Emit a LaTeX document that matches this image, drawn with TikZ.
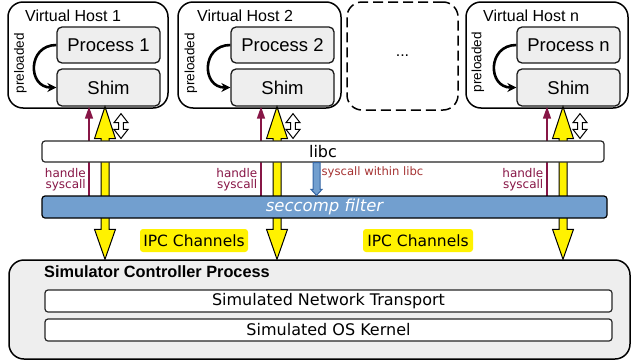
\documentclass[tikz,border=0pt]{standalone}
\usepackage{fontspec}
\setmainfont{Liberation Sans}
\newfontfamily\dv{DejaVu Sans}
\usetikzlibrary{arrows.meta,calc}
\definecolor{maroonc}{RGB}{135,22,70}
\definecolor{sysred}{RGB}{165,50,50}
\definecolor{secblue}{HTML}{729FCF}
\definecolor{secdark}{HTML}{3465A4}
\definecolor{boxgray}{HTML}{EEEEEE}
\newcommand\fs[1]{\fontsize{#1}{#1}\selectfont}
\tikzset{
  hostbox/.style={draw=black,line width=1.5pt,rounded corners=15pt,fill=white,minimum width=#1,minimum height=106pt,inner sep=0pt},
  procbox/.style={draw=black!90,line width=1.3pt,rounded corners=5pt,fill=boxgray,minimum width=103pt,minimum height=36pt,inner sep=0pt,font=\fs{18.5}},
  layerbox/.style={draw=black!85,line width=1.2pt,rounded corners=3pt,minimum height=#1,inner sep=0pt},
  hosttitle/.style={anchor=west,font=\fs{16},inner sep=0pt},
  preload/.style={rotate=90,font=\fs{13.5},inner sep=0pt},
  preloadarr/.style={line width=2.6pt,-{Stealth[length=9pt,width=9pt]}},
  syscallarr/.style={maroonc,line width=1.5pt,-{Triangle[length=12pt,width=8pt]}},
  handlelbl/.style={anchor=east,align=right,text=maroonc,font=\dv\fs{12},inner sep=0pt},
  yarrow/.style={draw=black,fill=yellow,line width=1pt,line join=miter},
  warrow/.style={draw=black,fill=white,line width=1pt},
  barrow/.style={draw=secdark,fill=secblue,line width=1pt},
  ipclbl/.style={fill=yellow,rounded corners=3pt,minimum width=#1,minimum height=23pt,inner sep=0pt,font=\dv\fs{15.5}},
}
\newcommand\yellowarrow[3]{%
  \draw[yarrow] let \p1=(#1 |- #2), \p2=(#1 |- #3) in
    (\x1,\y1) -- (\x1+10.5pt,\y1-32pt) -- (\x1+4pt,\y1-32pt) -- (\x1+4pt,\y2+30pt)
    -- (\x1+10.5pt,\y2+30pt) -- (\x2,\y2) -- (\x1-10.5pt,\y2+30pt) -- (\x1-4pt,\y2+30pt)
    -- (\x1-4pt,\y1-32pt) -- (\x1-10.5pt,\y1-32pt) -- cycle;}
\newcommand\whitearrow[3]{%
  \draw[warrow] let \p1=(#1 |- #2), \p2=(#1 |- #3) in
    (\x1,\y1-7pt) -- (\x1+7pt,\y1-16pt) -- (\x1+2.3pt,\y1-16pt) -- (\x1+2.3pt,\y2+11pt)
    -- (\x1+7pt,\y2+11pt) -- (\x2,\y2+2pt) -- (\x1-7pt,\y2+11pt) -- (\x1-2.3pt,\y2+11pt)
    -- (\x1-2.3pt,\y1-16pt) -- (\x1-7pt,\y1-16pt) -- cycle;}
\begin{document}
\begin{tikzpicture}[x=1pt,y=-1pt]
\useasboundingbox (0,0) rectangle (631,362);
% hosts
\node[hostbox=160pt] (host1) at (88,55) {};
\node[hostbox=163pt] (host2) at (259.5,55) {};
\node[hostbox=111pt,dash pattern=on 10pt off 5pt,minimum height=108pt] (dots) at (402.5,56) {\fs{16}...};
\node[hostbox=162pt] (hostn) at (547,55) {};
\node[hosttitle] (t1) at (25,16) {Virtual Host 1};
\node[hosttitle] (t2) at (197,16) {Virtual Host 2};
\node[hosttitle] (tn) at (483,16) {Virtual Host n};
\node[procbox] (proc1) at (108.5,45) {Process 1};
\node[procbox,minimum height=37pt] (shim1) at (108.5,87.5) {Shim};
\node[procbox] (proc2) at (282.5,45) {Process 2};
\node[procbox,minimum height=37pt] (shim2) at (282.5,87.5) {Shim};
\node[procbox] (procn) at (568.5,45) {Process n};
\node[procbox,minimum height=37pt] (shimn) at (568.5,87.5) {Shim};
\node[preload] (pl1) at (20.5,63) {preloaded};
\node[preload] (pl2) at (191,63) {preloaded};
\node[preload] (pln) at (478,62) {preloaded};
\draw[preloadarr] (proc1.west) .. controls ($(proc1.west)+(-29,0)$) and ($(shim1.west)+(-29,0)$) .. (shim1.west);
\draw[preloadarr] (proc2.west) .. controls ($(proc2.west)+(-29,0)$) and ($(shim2.west)+(-29,0)$) .. (shim2.west);
\draw[preloadarr] (procn.west) .. controls ($(procn.west)+(-29,0)$) and ($(shimn.west)+(-29,0)$) .. (shimn.west);
% controller (defined before arrows so they can reach it)
\node[draw=black,line width=1.5pt,rounded corners=15pt,fill=boxgray,minimum width=621pt,minimum height=99pt,inner sep=0pt] (ctrl) at (319.5,309.5) {};
\node[anchor=west,font=\bfseries\fs{16.3},inner sep=0pt] (ctitle) at (44,272) {Simulator Controller Process};
\node[layerbox=22pt,fill=white,minimum width=567pt,font=\dv\fs{16}] (net) at (328.5,301) {Simulated Network Transport};
\node[layerbox=22pt,fill=white,minimum width=567pt,font=\dv\fs{16}] (os) at (328.5,330) {Simulated OS Kernel};
% column coordinates
\coordinate (m1) at (89,0);  \coordinate (y1) at (105,0); \coordinate (w1) at (121,0);
\coordinate (m2) at (261,0); \coordinate (y2) at (277,0); \coordinate (w2) at (293,0);
\coordinate (mn) at (547,0); \coordinate (yn) at (563,0); \coordinate (wn) at (580,0);
\coordinate (bx) at (316.5,0);
% seccomp placeholder coordinates for arrows
\coordinate (secN) at (0,196);
\draw[syscallarr] (m1 |- secN) -- (m1 |- shim1.south);
\draw[syscallarr] (m2 |- secN) -- (m2 |- shim2.south);
\draw[syscallarr] (mn |- secN) -- (mn |- shimn.south);
\yellowarrow{y1}{shim1.south}{ctrl.north}
\yellowarrow{y2}{shim2.south}{ctrl.north}
\yellowarrow{yn}{shimn.south}{ctrl.north}
% libc and seccomp
\node[layerbox=21pt,fill=white,minimum width=562pt,font=\dv\fs{16}] (libc) at (323,151.5) {libc};
\node[layerbox=22pt,draw=black,fill=secblue,minimum width=565pt,text=white,font=\dv\itshape\fs{16.5}] (seccomp) at (324.5,207) {seccomp filter};
\whitearrow{w1}{shim1.south}{libc.north}
\whitearrow{w2}{shim2.south}{libc.north}
\whitearrow{wn}{shimn.south}{libc.north}
\draw[barrow] let \p1=(bx |- libc.south), \p2=(bx |- seccomp.north) in
  (\x1-3.5pt,\y1) -- (\x1+3.5pt,\y1) -- (\x1+3.5pt,\y2+6pt) -- (\x1+5.5pt,\y2+6pt)
  -- (\x2,\y2) -- (\x1-5.5pt,\y2+6pt) -- (\x1-3.5pt,\y2+6pt) -- cycle;
\node[anchor=west,text=sysred,font=\dv\fs{11.6},inner sep=0pt] (swl) at (321.5,172) {syscall within libc};
\node[handlelbl] (h1) at (86,179.5) {handle\\[-1pt]syscall};
\node[handlelbl] (h2) at (257.5,179.5) {handle\\[-1pt]syscall};
\node[handlelbl] (hn) at (543.5,179.5) {handle\\[-1pt]syscall};
\node[ipclbl=108pt] (ipc1) at (194,240.5) {IPC Channels};
\node[ipclbl=110pt] (ipc2) at (418,240.5) {IPC Channels};
\end{tikzpicture}
\end{document}
